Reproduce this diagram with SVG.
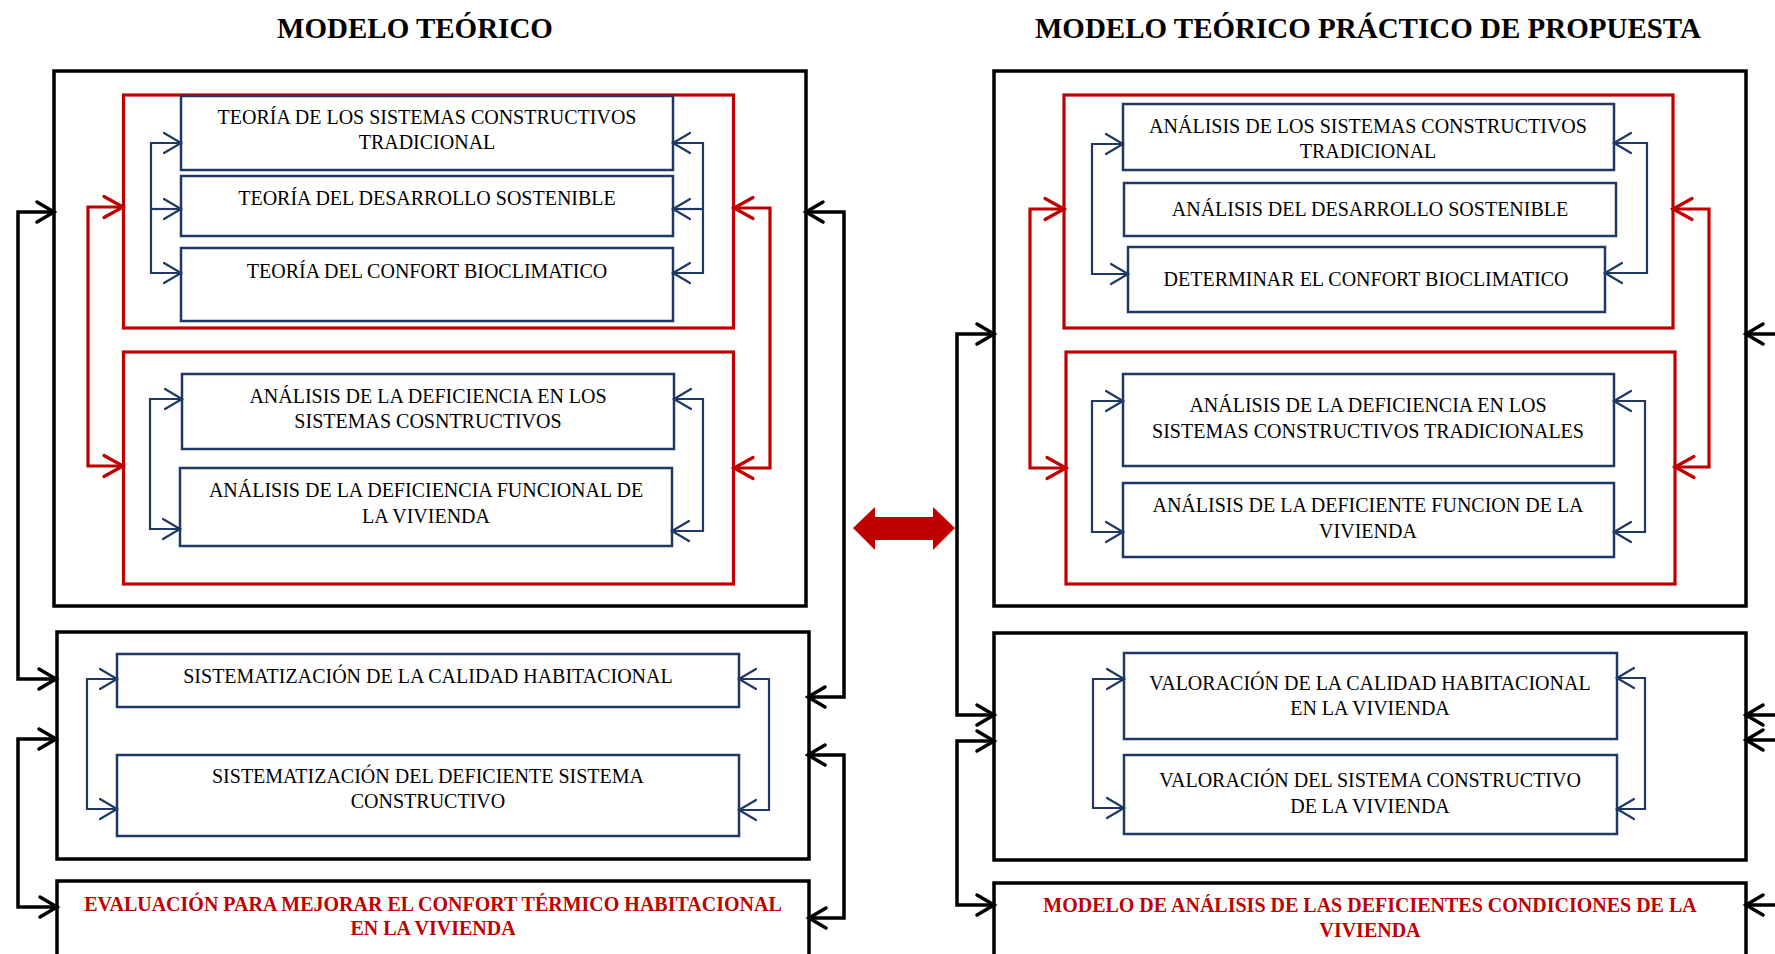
<svg xmlns="http://www.w3.org/2000/svg" width="1775" height="954" viewBox="0 0 1775 954">
  <style>
    .title { font-family: "Liberation Serif", "Times New Roman", serif; font-size: 29px; font-weight: bold; fill: #000; text-anchor: middle; }
    .lbl { font-family: "Liberation Serif", "Times New Roman", serif; font-size: 20px; fill: #000; text-anchor: middle; }
    .res { font-family: "Liberation Serif", "Times New Roman", serif; font-size: 20px; font-weight: bold; fill: #C00000; text-anchor: middle; }
    .frame { fill: #fff; stroke: #000; stroke-width: 3.5; }
    .group { fill: none; stroke: #C00000; stroke-width: 3.2; }
    .item { fill: #fff; stroke: #1F3864; stroke-width: 2.5; }
    .cb { fill: none; stroke: #000; stroke-width: 3.5; marker-start: url(#hb); marker-end: url(#hb); }
    .cr { fill: none; stroke: #C00000; stroke-width: 3.2; marker-start: url(#hr); marker-end: url(#hr); }
    .cu { fill: none; stroke: #1F3864; stroke-width: 2.2; marker-start: url(#hu); marker-end: url(#hu); }
    .cu1 { fill: none; stroke: #1F3864; stroke-width: 2.2; marker-end: url(#hu); }
  </style>
  <defs>
    <marker id="hb" markerUnits="userSpaceOnUse" viewBox="-20 -12 22 24" refX="0" refY="0" markerWidth="22" markerHeight="24" orient="auto-start-reverse" overflow="visible">
      <path d="M-17,-10 L0,0 L-17,10" fill="none" stroke="#000" stroke-width="3.5" stroke-linecap="round"/>
    </marker>
    <marker id="hr" markerUnits="userSpaceOnUse" viewBox="-22 -12 24 24" refX="0" refY="0" markerWidth="24" markerHeight="24" orient="auto-start-reverse" overflow="visible">
      <path d="M-19,-10.5 L0,0 L-19,10.5" fill="none" stroke="#C00000" stroke-width="3.2" stroke-linecap="round"/>
    </marker>
    <marker id="hu" markerUnits="userSpaceOnUse" viewBox="-20 -12 22 24" refX="0" refY="0" markerWidth="22" markerHeight="24" orient="auto-start-reverse" overflow="visible">
      <path d="M-17,-10 L0,0 L-17,10" fill="none" stroke="#1F3864" stroke-width="2.2" stroke-linecap="round"/>
    </marker>
  </defs>

  <rect width="1775" height="954" fill="#fff"/>

  <!-- Column headings -->
  <text class="title" x="415" y="38">MODELO TEÓRICO</text>
  <text class="title" x="1368" y="38">MODELO TEÓRICO PRÁCTICO DE PROPUESTA</text>

  <!-- ===== Left column: theoretical model ===== -->
  <g id="teorico-bloque1">
    <rect class="frame" x="54" y="71" width="752" height="535"/>
    <rect class="group" x="123.5" y="95" width="610" height="233"/>
    <rect class="group" x="123.5" y="352" width="610" height="232"/>
  </g>
  <g id="t-sistemas">
    <rect class="item" x="181" y="96" width="492" height="74"/>
    <text class="lbl" x="427" y="124">TEORÍA DE LOS SISTEMAS CONSTRUCTIVOS</text>
    <text class="lbl" x="427" y="149">TRADICIONAL</text>
  </g>
  <g id="t-desarrollo">
    <rect class="item" x="181" y="176" width="492" height="60"/>
    <text class="lbl" x="427" y="205">TEORÍA DEL DESARROLLO SOSTENIBLE</text>
  </g>
  <g id="t-confort">
    <rect class="item" x="181" y="248" width="492" height="73"/>
    <text class="lbl" x="427" y="278">TEORÍA DEL CONFORT BIOCLIMATICO</text>
  </g>
  <g id="t-def-sistemas">
    <rect class="item" x="182" y="374" width="492" height="75"/>
    <text class="lbl" x="428" y="403">ANÁLISIS DE LA DEFICIENCIA EN LOS</text>
    <text class="lbl" x="428" y="428">SISTEMAS COSNTRUCTIVOS</text>
  </g>
  <g id="t-def-funcional">
    <rect class="item" x="180" y="468" width="492" height="78"/>
    <text class="lbl" x="426" y="497">ANÁLISIS DE LA DEFICIENCIA FUNCIONAL DE</text>
    <text class="lbl" x="426" y="523">LA VIVIENDA</text>
  </g>
  <g id="teorico-bloque2">
    <rect class="frame" x="57" y="632" width="752" height="227"/>
  </g>
  <g id="t-calidad">
    <rect class="item" x="117" y="654" width="622" height="53"/>
    <text class="lbl" x="428" y="683">SISTEMATIZACIÓN DE LA CALIDAD HABITACIONAL</text>
  </g>
  <g id="t-sistema-def">
    <rect class="item" x="117" y="755" width="622" height="81"/>
    <text class="lbl" x="428" y="783">SISTEMATIZACIÓN DEL DEFICIENTE SISTEMA</text>
    <text class="lbl" x="428" y="808">CONSTRUCTIVO</text>
  </g>
  <g id="t-evaluacion">
    <rect class="frame" x="57" y="881" width="752" height="75"/>
    <text class="res" x="433" y="911">EVALUACIÓN PARA MEJORAR EL CONFORT TÉRMICO HABITACIONAL</text>
    <text class="res" x="433" y="935">EN LA VIVIENDA</text>
  </g>

  <!-- ===== Right column: proposed practical model ===== -->
  <g id="propuesta-bloque1">
    <rect class="frame" x="994" y="71" width="752" height="535"/>
    <rect class="group" x="1064" y="95" width="609" height="233"/>
    <rect class="group" x="1066" y="352" width="609" height="232"/>
  </g>
  <g id="p-sistemas">
    <rect class="item" x="1123" y="104" width="491" height="66"/>
    <text class="lbl" x="1368" y="133">ANÁLISIS DE LOS SISTEMAS CONSTRUCTIVOS</text>
    <text class="lbl" x="1368" y="158">TRADICIONAL</text>
  </g>
  <g id="p-desarrollo">
    <rect class="item" x="1124" y="183" width="492" height="53"/>
    <text class="lbl" x="1370" y="216">ANÁLISIS DEL DESARROLLO SOSTENIBLE</text>
  </g>
  <g id="p-confort">
    <rect class="item" x="1128" y="247" width="477" height="65"/>
    <text class="lbl" x="1366" y="286">DETERMINAR EL CONFORT BIOCLIMATICO</text>
  </g>
  <g id="p-def-sistemas">
    <rect class="item" x="1123" y="374" width="491" height="92"/>
    <text class="lbl" x="1368" y="412">ANÁLISIS DE LA DEFICIENCIA EN LOS</text>
    <text class="lbl" x="1368" y="438">SISTEMAS CONSTRUCTIVOS TRADICIONALES</text>
  </g>
  <g id="p-def-funcion">
    <rect class="item" x="1123" y="483" width="491" height="74"/>
    <text class="lbl" x="1368" y="512">ANÁLISIS DE LA DEFICIENTE FUNCION DE LA</text>
    <text class="lbl" x="1368" y="538">VIVIENDA</text>
  </g>
  <g id="propuesta-bloque2">
    <rect class="frame" x="994" y="633" width="752" height="227"/>
  </g>
  <g id="p-calidad">
    <rect class="item" x="1124" y="653" width="493" height="86"/>
    <text class="lbl" x="1370" y="690">VALORACIÓN DE LA CALIDAD HABITACIONAL</text>
    <text class="lbl" x="1370" y="715">EN LA VIVIENDA</text>
  </g>
  <g id="p-sistema">
    <rect class="item" x="1124" y="755" width="493" height="79"/>
    <text class="lbl" x="1370" y="787">VALORACIÓN DEL SISTEMA CONSTRUCTIVO</text>
    <text class="lbl" x="1370" y="813">DE LA VIVIENDA</text>
  </g>
  <g id="p-modelo">
    <rect class="frame" x="994" y="883" width="752" height="73"/>
    <text class="res" x="1370" y="912">MODELO DE ANÁLISIS DE LAS DEFICIENTES CONDICIONES DE LA</text>
    <text class="res" x="1370" y="937">VIVIENDA</text>
  </g>

  <!-- ===== Connectors ===== -->
  <g id="connectors">
    <!-- left column, outer black feedback loops -->
    <path class="cb" d="M54,212 H18 V679 H56"/>
    <path class="cb" d="M56,739 H18 V907 H57"/>
    <path class="cb" d="M806,212 H844 V697 H808"/>
    <path class="cb" d="M808,755 H844 V918 H809"/>
    <!-- left column, red links between groups -->
    <path class="cr" d="M123,207 H88 V466 H123"/>
    <path class="cr" d="M734,208 H770 V468 H734"/>
    <!-- left column, blue links between items -->
    <path class="cu" d="M181,143 H151 V273 H181"/>
    <path class="cu1" d="M151,209 H181"/>
    <path class="cu" d="M673,143 H703 V273 H673"/>
    <path class="cu1" d="M703,209 H673"/>
    <path class="cu" d="M182,399 H150 V529 H180"/>
    <path class="cu" d="M674,399 H703 V531 H672"/>
    <path class="cu" d="M117,679 H87 V809 H117"/>
    <path class="cu" d="M739,679 H769 V810 H739"/>

    <!-- link between the two models -->
    <polygon fill="#C00000" points="853,528 875,507 875,517 933,517 933,507 955,528 933,550 933,540 875,540 875,550"/>

    <!-- right column, outer black feedback loops -->
    <path class="cb" d="M994,334 H957 V715 H994"/>
    <path class="cb" d="M994,741 H957 V905 H994"/>
    <path class="cb" d="M1746,334 H1795 V715 H1746"/>
    <path class="cb" d="M1746,740 H1795 V905 H1746"/>
    <!-- right column, red links between groups -->
    <path class="cr" d="M1064,209 H1030 V468 H1066"/>
    <path class="cr" d="M1673,209 H1709 V467 H1675"/>
    <!-- right column, blue links between items -->
    <path class="cu" d="M1123,144 H1092 V274 H1128"/>
    <path class="cu" d="M1614,143 H1647 V273 H1605"/>
    <path class="cu" d="M1123,401 H1092 V532 H1123"/>
    <path class="cu" d="M1614,401 H1645 V532 H1614"/>
    <path class="cu" d="M1124,679 H1093 V808 H1124"/>
    <path class="cu" d="M1617,678 H1645 V809 H1617"/>
  </g>
</svg>
